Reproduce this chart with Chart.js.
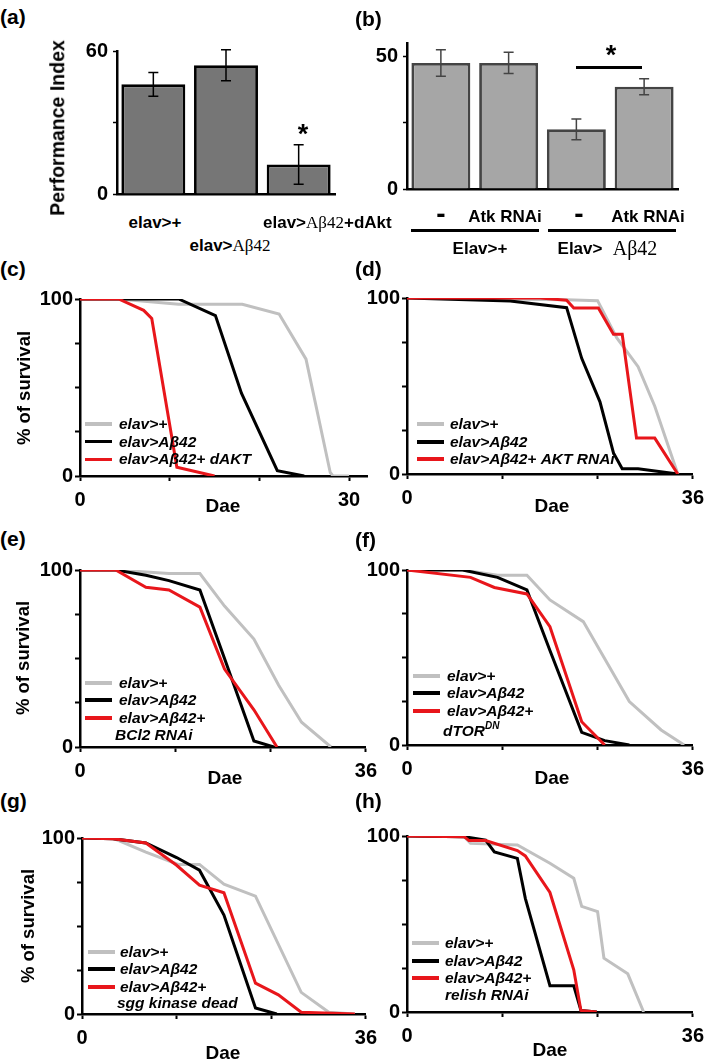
<!DOCTYPE html>
<html>
<head>
<meta charset="utf-8">
<script src="https://cdn.jsdelivr.net/npm/chart.js@4.4.1/dist/chart.umd.min.js"></script>
<style>
body{margin:0;background:#fff;width:709px;height:1059px;position:relative;overflow:hidden;font-family:"Liberation Sans",Arial,sans-serif}
canvas{position:absolute}
.t{position:absolute;white-space:nowrap;font-weight:bold;line-height:1;color:#000}
.ln{position:absolute}
.ser{font-family:"Liberation Serif","Times New Roman",serif;font-weight:normal}
</style>
</head>
<body>
<canvas id="ca"></canvas><canvas id="cb"></canvas>
<canvas id="cc"></canvas><canvas id="cd"></canvas>
<canvas id="ce"></canvas><canvas id="cf"></canvas>
<canvas id="cg"></canvas><canvas id="ch"></canvas>
<script>
// (a) performance index
const aLabels = ['elav>+', 'elav>Aβ42', 'elav>Aβ42+dAkt']
const aMean = [46, 54, 12.4]
const aErr = [5, 6.5, 8.3]
const aTicks = [0, 30, 60]
// (b) performance index
const bLabels = ['-', 'Atk RNAi', '-', 'Atk RNAi']
const bMean = [47.5, 47.5, 22.5, 38.5]
const bErr = [5, 4, 3.9, 3]
const bTicks = [0, 25, 50]

// survival curves: days and % alive
const cDaysCtrl = [0, 4.3, 11, 18.1, 22.2, 25.2, 27.9, 28.2, 30]
const cSurvCtrl = [100, 100, 97, 97, 91.5, 66, 2, 0, 0]
const cDaysAb = [0, 11, 15.1, 18, 22, 25]
const cSurvAb = [100, 100, 90.6, 46.8, 3, 0]
const cDaysAkt = [0, 4.3, 7.1, 8, 10.8, 15]
const cSurvAkt = [100, 100, 93.6, 89, 4.9, 0]

const dDaysCtrl = [0, 20, 24, 26.4, 29.1, 31.2, 34.1]
const dSurvCtrl = [100, 99, 98.5, 77.5, 61, 38.5, 0]
const dDaysAb = [0, 13, 20.1, 22, 24.3, 26, 27.1, 29.1, 34.1]
const dSurvAb = [100, 98.3, 94.5, 65.7, 41, 12, 3, 3, 0]
const dDaysRnai = [0, 16.8, 20.1, 21, 24.1, 26, 27.1, 28.9, 31.2, 34.1]
const dSurvRnai = [100, 100, 98.7, 94.3, 94.3, 79.4, 79.4, 20.4, 20.4, 0]

const eDaysCtrl = [0, 4.5, 11.2, 15.1, 18.2, 21.9, 25, 27.9, 31.6]
const eSurvCtrl = [100, 100, 98, 98, 79.6, 61, 35, 14, 0]
const eDaysAb = [0, 4.5, 8.3, 11.2, 15.1, 18.2, 21.9, 24.4]
const eSurvAb = [100, 100, 97, 94, 88.7, 50, 3.4, 0]
const eDaysBcl = [0, 4.5, 8.3, 11.2, 15.1, 18.2, 21.9, 24.8]
const eSurvBcl = [100, 100, 90.2, 88.7, 79, 44, 21, 0]

const fDaysCtrl = [0, 7, 11.4, 15.1, 18, 22.2, 28, 32, 34.9]
const fSurvCtrl = [100, 100, 97, 97, 82.9, 70.5, 24.8, 8.6, 0]
const fDaysAb = [0, 7, 11.4, 15.1, 18, 22, 24.9, 28]
const fSurvAb = [100, 100, 95.8, 88.6, 54, 7.2, 2.5, 0]
const fDaysTor = [0, 8, 11, 15.1, 18, 22, 24.9]
const fSurvTor = [100, 95.8, 90, 86.3, 67.6, 13.3, 0]

const gDaysCtrl = [0, 3.9, 8.1, 12.2, 14.9, 18, 22, 27.8, 31.3, 34.6]
const gSurvCtrl = [100, 100, 92, 85, 85, 73.8, 67, 12.3, 1, 0]
const gDaysAb = [0, 3.9, 8.1, 12, 14.9, 18, 22, 24.7]
const gSurvAb = [100, 99.6, 97.2, 88.9, 81.7, 56.2, 3.4, 0]
const gDaysSgg = [0, 3.9, 8.1, 12, 14.9, 18, 22, 24.9, 27.8, 34.6]
const gSurvSgg = [100, 99.6, 97.2, 84.5, 73.2, 68.9, 17.5, 10.9, 1, 0]

const hDaysCtrl = [0, 7.2, 8, 13.9, 18, 21, 22, 24, 24.8, 27.8, 29.8]
const hSurvCtrl = [100, 99.6, 95.8, 94.9, 84.5, 76, 60, 57, 30.6, 21.7, 0]
const hDaysAb = [0, 7.2, 9.9, 11, 13.9, 14.9, 18, 21, 21.9, 23.9]
const hSurvAb = [100, 99.6, 97.7, 91, 87.3, 64.6, 14.9, 14.9, 0.9, 0]
const hDaysRel = [0, 7.2, 7.8, 9.9, 13.9, 14.9, 18, 21, 21.9, 23.9]
const hSurvRel = [100, 99.6, 97.4, 97.4, 91.7, 88.7, 67.9, 24, 0.9, 0]

const survTicks = [0, 25, 50, 75, 100]
const dayTicks36 = [0, 12, 24, 36]
const dayTicks30 = [0, 10, 20, 30]
const seriesColors = ['#c0c0c0', '#000000', '#e8161b']

const FONT = '"Liberation Sans", Arial, sans-serif'
const tickFont = {family: FONT, size: 20, weight: 'bold'}

// error bars drawn from the y scale
const errorBars = {
  id: 'errorBars',
  afterDatasetsDraw(chart, args, opts) {
    const meta = chart.getDatasetMeta(0)
    const ys = chart.scales.y
    const ctx = chart.ctx
    ctx.save()
    ctx.strokeStyle = opts.color
    ctx.lineWidth = 1.5
    meta.data.forEach((bar, i) => {
      const m = chart.data.datasets[0].data[i], e = opts.errs[i]
      const top = ys.getPixelForValue(m + e), bot = ys.getPixelForValue(m - e)
      ctx.beginPath()
      ctx.moveTo(bar.x, top); ctx.lineTo(bar.x, bot)
      ctx.moveTo(bar.x - 5, top); ctx.lineTo(bar.x + 5, top)
      ctx.moveTo(bar.x - 5, bot); ctx.lineTo(bar.x + 5, bot)
      ctx.stroke()
    })
    ctx.restore()
  }
}

function place(id, box, YW, PT, PR, XH) {
  const cv = document.getElementById(id)
  const w = (box.right - box.ax) + YW + PR
  const h = (box.bottom - box.top) + PT + XH
  cv.width = w; cv.height = h
  cv.style.width = w + 'px'; cv.style.height = h + 'px'
  cv.style.left = (box.ax - YW) + 'px'; cv.style.top = (box.top - PT) + 'px'
  return cv
}

function barChart(id, box, labels, means, errs, yMax, yTicks, fill, edge, pct) {
  const YW = 50, PT = 14, PR = 4, XH = 4
  const cv = place(id, box, YW, PT, PR, XH)
  new Chart(cv, {
    type: 'bar',
    data: {labels: labels, datasets: [{data: means, backgroundColor: fill, borderColor: edge, borderWidth: 2.8,
      barPercentage: pct, categoryPercentage: 1}]},
    options: {
      responsive: false, animation: false,
      layout: {padding: {top: PT, right: PR, left: 0, bottom: 0}},
      plugins: {legend: {display: false}, tooltip: {enabled: false}, errorBars: {errs: errs, color: edge}},
      scales: {
        x: {ticks: {display: false}, grid: {display: false}, border: {color: '#000', width: 2.5},
            afterFit: s => { s.height = XH }},
        y: {min: 0, max: yMax,
            afterBuildTicks: s => { s.ticks = yTicks.map(v => ({value: v})) },
            afterFit: s => { s.width = YW },
            ticks: {font: tickFont, color: '#000', padding: 5,
                    callback: v => (v === yTicks[0] || v === yTicks[yTicks.length - 1]) ? String(v) : ''},
            grid: {drawOnChartArea: false, tickLength: 4, tickWidth: 1.5, tickColor: '#000'},
            border: {color: '#000', width: 2.5}}
      }
    },
    plugins: [errorBars]
  })
}

function survivalChart(id, box, xMax, xTicks, days, surv) {
  const YW = 56, PT = 14, PR = 16, XH = 34
  const cv = place(id, box, YW, PT, PR, XH)
  new Chart(cv, {
    type: 'line',
    data: {datasets: days.map((dd, k) => ({
      data: dd.map((d, i) => ({x: d, y: surv[k][i]})),
      borderColor: seriesColors[k], borderWidth: 3, pointRadius: 0, tension: 0, fill: false,
      order: 3 - k
    }))},
    options: {
      responsive: false, animation: false,
      layout: {padding: {top: PT, right: PR, left: 0, bottom: 0}},
      plugins: {legend: {display: false}, tooltip: {enabled: false}},
      scales: {
        x: {type: 'linear', min: 0, max: xMax,
            afterBuildTicks: s => { s.ticks = xTicks.map(v => ({value: v})) },
            afterFit: s => { s.height = XH },
            ticks: {font: tickFont, color: '#000', padding: 7, maxRotation: 0, autoSkip: false,
                    callback: v => (v === 0 || v === xTicks[xTicks.length - 1]) ? String(v) : ''},
            grid: {drawOnChartArea: false, tickLength: 5, tickWidth: 2, tickColor: '#000'},
            border: {color: '#000', width: 2.5}},
        y: {min: 0, max: 100,
            afterBuildTicks: s => { s.ticks = survTicks.map(v => ({value: v})) },
            afterFit: s => { s.width = YW },
            ticks: {font: tickFont, color: '#000', padding: 2,
                    callback: v => (v === 0 || v === 100) ? String(v) : ''},
            grid: {drawOnChartArea: false, tickLength: 5, tickWidth: 2, tickColor: '#000'},
            border: {color: '#000', width: 2.5}}
      }
    }
  })
}

barChart('ca', {ax: 117, top: 48, bottom: 207, right: 335}, aLabels, aMean, aErr, 60, aTicks, '#767676', '#000', 0.88)
barChart('cb', {ax: 407, top: 40, bottom: 202, right: 678}, bLabels, bMean, bErr, 55, bTicks, '#a6a6a6', '#444', 0.87)

survivalChart('cc', {ax: 80, top: 299, bottom: 476, right: 367}, 32, dayTicks30,
  [cDaysCtrl, cDaysAb, cDaysAkt], [cSurvCtrl, cSurvAb, cSurvAkt])
survivalChart('cd', {ax: 407, top: 298, bottom: 474, right: 695}, 36, dayTicks36,
  [dDaysCtrl, dDaysAb, dDaysRnai], [dSurvCtrl, dSurvAb, dSurvRnai])
survivalChart('ce', {ax: 80, top: 570, bottom: 747, right: 368}, 36, dayTicks36,
  [eDaysCtrl, eDaysAb, eDaysBcl], [eSurvCtrl, eSurvAb, eSurvBcl])
survivalChart('cf', {ax: 407, top: 570, bottom: 745, right: 695}, 36, dayTicks36,
  [fDaysCtrl, fDaysAb, fDaysTor], [fSurvCtrl, fSurvAb, fSurvTor])
survivalChart('cg', {ax: 82, top: 838, bottom: 1014, right: 368}, 36, dayTicks36,
  [gDaysCtrl, gDaysAb, gDaysSgg], [gSurvCtrl, gSurvAb, gSurvSgg])
survivalChart('ch', {ax: 407, top: 836, bottom: 1012, right: 695}, 36, dayTicks36,
  [hDaysCtrl, hDaysAb, hDaysRel], [hSurvCtrl, hSurvAb, hSurvRel])

// text helpers
function txt(html, x, y, size, o) {
  o = o || {}
  const d = document.createElement('div')
  d.className = 't'
  d.innerHTML = html
  d.style.fontSize = size + 'px'
  d.style.left = x + 'px'
  d.style.top = y + 'px'
  let tf = o.left ? 'translate(0,-50%)' : 'translate(-50%,-50%)'
  if (o.rotate) tf += ' rotate(-90deg)'
  d.style.transform = tf
  if (o.italic) d.style.fontStyle = 'italic'
  document.body.appendChild(d)
}
function rule(x, y, w, h, color) {
  const d = document.createElement('div')
  d.className = 'ln'
  d.style.left = x + 'px'; d.style.top = y + 'px'
  d.style.width = w + 'px'; d.style.height = h + 'px'
  d.style.background = color
  document.body.appendChild(d)
}
function legend(lineX, textX, rows, names, extra) {
  rows.forEach((y, i) => {
    rule(lineX, y - 1.75, 27, 3.5, seriesColors[i])
    txt(names[i], textX, y, 15.5, {left: true, italic: true})
  })
  if (extra) txt(extra.text, extra.x, extra.y, 15.5, {left: true, italic: true})
}

// panel letters
const panelLetters = [['(a)', 0, 16], ['(b)', 355, 18], ['(c)', 0, 268], ['(d)', 355, 268],
  ['(e)', 0, 538], ['(f)', 355, 539], ['(g)', 0, 800], ['(h)', 355, 800]]
panelLetters.forEach(p => txt(p[0], p[1], p[2], 21, {left: true}))

// (a) labels
txt('Performance Index', 58, 127.5, 19.5, {rotate: true})
txt('elav&gt;+', 155, 222, 17)
txt('elav&gt;<span class="ser">Aβ42</span>', 230, 245, 17)
txt('elav&gt;<span class="ser">Aβ42</span>+dAkt', 263, 222, 17, {left: true})
txt('*', 303, 134, 27)

// (b) labels
txt('-', 441, 214, 28)
txt('Atk RNAi', 505, 216, 17)
txt('-', 579, 214, 28)
txt('Atk RNAi', 648, 216, 17)
rule(411, 229, 128, 2.5, '#000')
rule(548, 229, 128, 2.5, '#000')
txt('Elav&gt;+', 480, 248, 17)
txt('Elav&gt;', 580, 248, 17)
txt('<span class="ser">Aβ42</span>', 635, 248, 20)
rule(576, 66, 66, 2.5, '#000')
txt('*', 611, 55, 27)

// survival axis titles
txt('% of survival', 23.5, 387.5, 18.5, {rotate: true})
txt('% of survival', 23, 658, 18.5, {rotate: true})
txt('% of survival', 27.5, 926, 18.5, {rotate: true})
const daeSpots = [[223, 505], [552, 505], [225, 777], [552, 777], [223, 1052], [550, 1049]]
daeSpots.forEach(p => txt('Dae', p[0], p[1], 19))

// legends
const baseNames = ['elav&gt;+', 'elav&gt;Aβ42']
legend(85, 119, [424, 441.7, 459.3], baseNames.concat(['elav&gt;Aβ42+ dAKT']))
legend(417, 450, [424, 442, 459], baseNames.concat(['elav&gt;Aβ42+ AKT RNAi']))
legend(85, 119, [683, 700, 718], baseNames.concat(['elav&gt;Aβ42+']), {text: 'BCl2 RNAi', x: 115, y: 735})
legend(413, 447, [676, 693, 711], baseNames.concat(['elav&gt;Aβ42+']),
  {text: 'dTOR<sup style="font-size:10px;vertical-align:7px">DN</sup>', x: 443, y: 730})
legend(88, 120, [952, 969, 987], baseNames.concat(['elav&gt;Aβ42+']), {text: 'sgg kinase dead', x: 117, y: 1003})
legend(412, 445, [943, 961, 978], baseNames.concat(['elav&gt;Aβ42+']), {text: 'relish RNAi', x: 445, y: 995})
</script>
</body>
</html>
